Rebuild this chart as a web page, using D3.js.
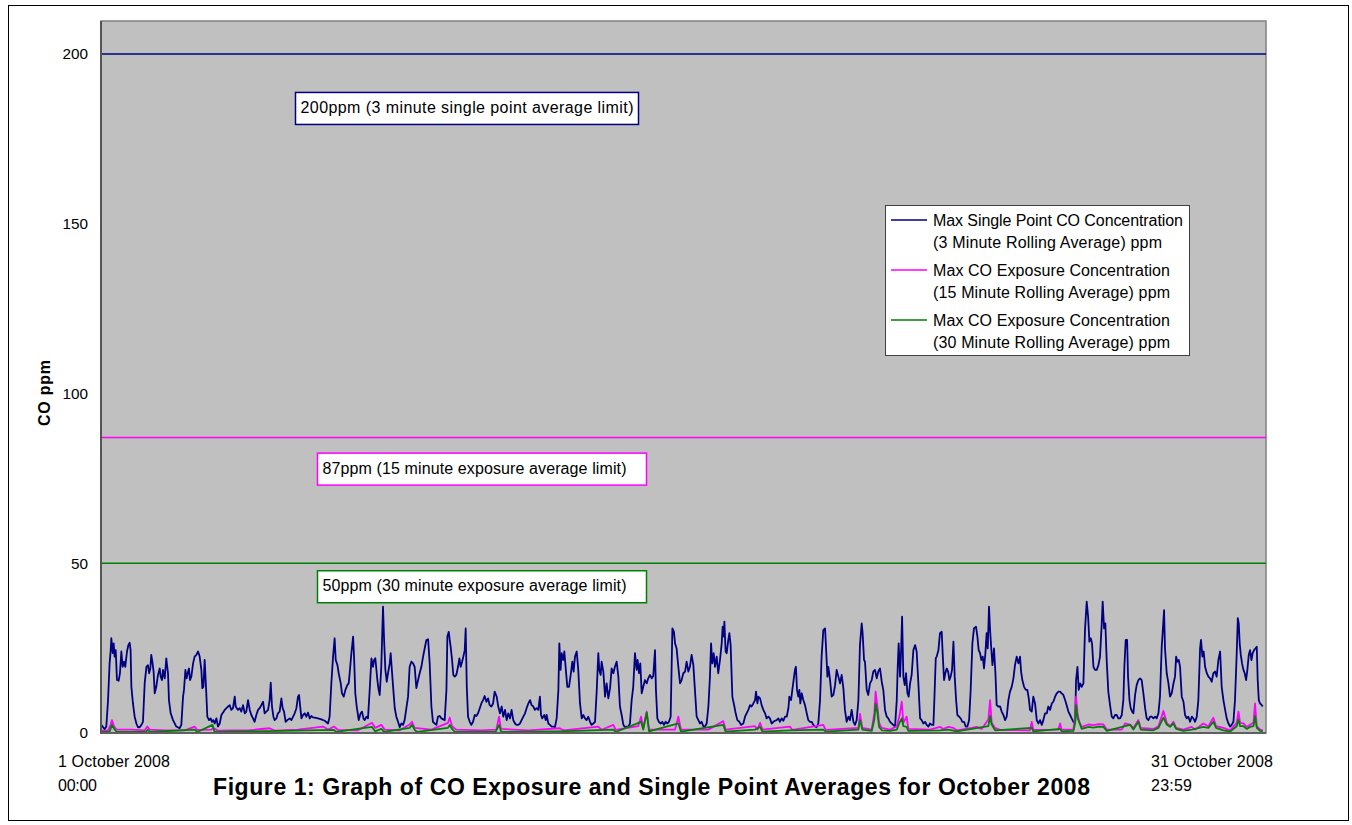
<!DOCTYPE html>
<html><head><meta charset="utf-8">
<script src="https://cdn.jsdelivr.net/npm/d3@7"></script>
<style>
body{margin:0;background:#fff}
svg{display:block}
text{font-family:"Liberation Sans",Arial,Helvetica,sans-serif;fill:#000}
</style>
</head><body>
<svg id="chart" width="1352" height="825"></svg>
<script>
// ---------- DATA (hours since 1 Oct 2008 00:00, ppm) ----------
const yTickValues = [0, 50, 100, 150, 200];
const limitValues = [200, 87, 50];
const limitLabels = [
  "200ppm (3 minute single point average limit)",
  "87ppm (15 minute exposure average limit)",
  "50ppm (30 minute exposure average limit)"
];
const seriesNames = [
  ["Max Single Point CO Concentration", "(3 Minute Rolling Average) ppm"],
  ["Max CO Exposure Concentration", "(15 Minute Rolling Average) ppm"],
  ["Max CO Exposure Concentration", "(30 Minute Rolling Average) ppm"]
];
const startLabel = ["1 October 2008", "00:00"];
const endLabel = ["31 October 2008", "23:59"];
const titleText = "Figure 1: Graph of CO Exposure and Single Point Averages for October 2008";
const yTitle = "CO ppm";
const hoursInMonth = 744;

const singlePoint3min = [
[0.2,2.4],[2.3,1.1],[3.4,1.9],[4.5,9.7],[5.5,20.5],[6.2,24.4],[6.6,27.9],[7.5,23.5],[8.1,26.4],[8.7,22.5],[9.4,24.4],[10.2,15.6],[11.3,15.4],[12.1,17.6],[13.0,24.0],[13.8,19.5],[14.7,21.0],[15.5,19.5],[16.6,24.0],[17.5,25.9],[18.3,26.6],[18.9,24.4],[19.4,13.6],[20.4,8.7],[21.5,4.8],[22.6,2.8],[23.6,1.7],[24.7,1.7],[25.8,2.4],[26.8,3.3],[27.9,14.6],[29.0,19.5],[30.0,20.0],[30.7,17.6],[31.5,19.0],[32.1,23.0],[32.8,21.0],[33.6,18.1],[34.3,11.7],[35.3,13.6],[36.4,17.1],[37.5,19.0],[38.1,16.6],[39.0,15.6],[39.6,18.6],[40.7,16.1],[41.7,22.0],[42.8,17.6],[43.4,9.7],[44.5,5.8],[46.0,3.8],[48.1,1.9],[50.2,1.4],[51.3,2.4],[52.4,10.7],[53.0,12.7],[53.9,18.6],[54.7,16.1],[55.6,18.1],[56.2,19.0],[56.8,15.6],[57.7,16.6],[58.8,20.5],[59.8,22.5],[60.9,23.0],[62.0,24.0],[63.0,22.5],[64.1,18.6],[64.7,13.2],[65.4,13.6],[66.2,21.5],[67.1,13.2],[67.9,4.8],[69.0,3.8],[70.0,4.3],[70.9,3.3],[71.7,3.8],[72.6,2.8],[73.7,4.3],[74.7,1.9],[75.8,2.8],[76.9,5.3],[79.0,6.8],[80.1,7.3],[81.1,7.8],[82.2,8.2],[83.2,6.8],[84.3,7.3],[85.4,10.7],[86.0,7.8],[87.5,6.8],[88.6,7.3],[89.6,6.3],[90.7,8.2],[91.8,5.8],[92.8,6.3],[93.9,9.7],[95.0,6.8],[96.0,5.3],[97.1,4.3],[98.1,3.3],[99.2,5.3],[100.3,6.8],[101.3,7.3],[102.4,8.2],[103.5,9.2],[104.5,5.8],[105.6,6.3],[106.7,6.8],[107.7,9.7],[108.4,14.8],[109.2,7.8],[110.1,4.8],[110.9,3.8],[112.0,4.3],[113.0,5.8],[114.1,6.3],[115.2,10.2],[116.0,7.3],[116.9,6.3],[117.9,3.3],[119.0,3.8],[120.5,4.3],[121.6,3.8],[123.7,5.8],[124.8,7.3],[125.8,10.7],[126.5,11.2],[127.1,8.2],[128.0,4.3],[129.0,5.3],[130.1,5.8],[131.1,4.8],[132.2,6.0],[133.3,4.3],[134.3,5.0],[135.4,4.6],[136.5,4.5],[138.6,4.3],[140.7,4.0],[142.9,3.6],[145.0,2.8],[146.0,4.8],[147.1,14.6],[148.2,22.5],[149.2,27.9],[149.9,21.5],[151.0,20.0],[151.8,17.6],[153.1,14.6],[153.9,11.7],[155.0,10.7],[156.1,12.7],[157.3,14.1],[158.2,14.6],[158.8,17.6],[159.9,23.5],[161.0,28.4],[161.6,22.5],[162.4,11.7],[163.3,7.8],[164.6,3.8],[165.8,5.8],[166.7,6.3],[167.6,4.3],[168.4,3.8],[169.5,4.8],[170.5,4.3],[171.6,12.7],[172.7,22.0],[173.7,19.5],[174.4,21.5],[175.2,22.0],[176.5,15.6],[177.3,12.7],[178.0,11.2],[179.0,19.5],[180.1,37.2],[180.8,27.4],[181.6,18.6],[182.5,15.1],[183.3,17.6],[184.4,20.5],[185.0,23.5],[185.9,17.6],[186.7,12.7],[187.6,7.3],[188.6,4.8],[189.7,3.3],[190.8,1.7],[191.8,2.8],[192.9,2.4],[193.9,3.8],[196.1,10.7],[197.1,19.5],[198.2,21.0],[199.3,20.5],[200.3,19.5],[201.4,13.2],[202.5,15.6],[203.5,17.6],[204.6,19.5],[205.7,22.5],[206.7,24.9],[207.8,27.4],[208.9,27.6],[209.9,20.5],[211.0,7.8],[212.0,3.3],[213.1,2.8],[214.2,2.4],[215.2,4.8],[216.3,5.0],[217.4,4.3],[219.5,3.8],[220.6,12.7],[221.2,28.4],[222.1,29.8],[222.7,27.4],[223.3,25.4],[224.2,21.5],[225.0,17.1],[225.9,16.6],[226.9,17.1],[228.0,19.5],[228.9,22.0],[229.7,19.5],[230.6,21.0],[231.4,22.5],[232.3,24.4],[232.9,30.8],[233.6,13.6],[234.4,4.8],[235.5,3.3],[236.5,2.4],[237.6,3.3],[238.7,5.3],[239.7,5.0],[240.8,5.8],[241.9,7.3],[242.9,8.7],[244.0,9.7],[245.0,10.9],[246.1,9.2],[247.2,10.2],[248.2,8.2],[249.3,7.8],[250.4,8.7],[251.4,12.2],
[252.7,10.7],[253.7,7.8],[254.8,5.8],[255.9,7.8],[256.9,4.8],[258.0,6.8],[259.1,3.8],[260.1,5.8],[261.2,4.3],[262.2,6.8],[263.3,3.8],[264.4,2.8],[265.4,2.4],[266.5,2.4],[267.6,2.8],[268.6,3.8],[269.7,4.8],[270.8,5.8],[271.8,7.3],[272.9,8.7],[274.0,9.7],[275.0,8.2],[276.1,7.8],[277.1,6.8],[278.2,7.3],[279.3,6.8],[280.3,10.7],[281.0,5.3],[281.8,4.3],[283.1,5.3],[284.0,3.8],[284.6,5.3],[285.7,2.8],[286.7,2.4],[287.8,1.9],[288.9,1.9],[289.9,1.7],[291.0,4.3],[292.1,12.7],[292.7,26.4],[293.5,18.6],[294.2,23.5],[295.2,21.5],[295.9,24.0],[296.7,19.5],[297.8,13.6],[298.9,13.6],[300.1,17.6],[301.0,21.0],[301.8,18.1],[302.7,22.5],[303.8,24.0],[304.8,18.6],[305.9,8.7],[307.0,4.3],[308.0,5.3],[309.1,4.3],[310.1,3.8],[311.2,4.8],[312.3,3.3],[313.3,2.4],[314.4,2.8],[315.5,3.3],[316.5,11.7],[317.6,23.5],[318.2,18.6],[319.1,17.1],[319.7,21.0],[320.8,18.1],[321.9,10.7],[322.9,14.6],[324.0,10.2],[325.1,13.2],[326.1,19.0],[327.2,17.6],[328.2,19.5],[329.3,21.0],[330.4,16.6],[331.4,7.8],[332.5,5.3],[333.6,2.4],[334.6,1.7],[335.7,1.9],[336.8,1.9],[337.8,2.8],[338.9,9.7],[339.9,13.6],[341.0,23.5],[342.1,18.6],[342.7,21.5],[343.6,17.6],[344.4,20.5],[345.3,11.7],[346.3,13.6],[347.4,15.6],[348.5,14.6],[349.5,16.1],[350.6,17.1],[351.7,16.1],[352.7,16.8],[353.8,24.4],[354.4,12.7],[355.3,4.3],[356.3,3.3],[357.4,2.8],[358.5,3.3],[359.5,2.4],[360.6,3.3],[361.7,2.8],[362.7,3.3],[363.8,4.8],[364.9,30.8],[365.9,29.8],[366.6,26.4],[367.6,24.9],[368.7,19.5],[369.8,14.6],[370.8,15.6],[371.9,17.6],[373.0,18.1],[374.0,21.0],[375.1,18.1],[376.1,19.5],[377.2,23.0],[378.3,20.0],[379.3,12.7],[380.4,4.8],[381.5,3.8],[382.5,2.8],[383.6,3.3],[384.7,1.9],[385.7,1.9],[386.8,2.8],[387.9,7.8],[388.9,16.6],[389.6,26.4],[390.4,20.5],[391.3,23.5],[392.1,19.5],[393.2,22.5],[394.2,17.6],[395.3,21.5],[396.4,26.4],[397.0,31.3],[397.7,28.4],[398.1,32.8],[398.9,24.0],[399.6,23.5],[400.6,27.4],[401.3,29.4],[402.1,25.9],[403.2,10.7],[404.5,7.8],[405.3,5.8],[406.4,3.8],[407.7,3.3],[408.7,2.4],[410.2,2.8],[411.3,4.8],[412.3,5.8],[413.4,6.8],[414.5,8.2],[415.5,7.8],[416.6,8.7],[417.7,9.7],[418.3,12.2],[419.2,8.7],[419.8,10.7],[420.9,10.2],[421.9,8.2],[423.0,6.8],[424.1,5.8],[425.1,4.3],[426.2,4.8],[427.2,4.3],[428.3,2.8],[429.4,3.3],[430.4,3.6],[431.5,3.8],[432.6,4.3],[433.6,3.3],[434.7,4.3],[435.8,3.6],[436.8,4.8],[437.9,4.8],[439.0,7.3],[439.6,10.7],[440.7,9.7],[441.5,12.7],[442.6,16.6],[443.2,18.6],[443.8,19.5],[444.5,12.7],[445.3,10.7],[446.0,12.7],[446.6,8.7],[447.5,11.7],[448.5,9.7],[449.6,8.2],[450.7,5.8],[451.7,3.8],[452.8,3.3],[453.9,3.3],[454.9,2.4],[456.0,1.9],[457.0,1.7],[458.1,2.8],[459.2,9.7],[460.2,22.5],[461.3,30.3],[462.4,30.8],[463.0,25.4],[463.9,16.6],[464.5,19.5],[465.6,15.6],[466.6,10.7],[467.7,11.2],[468.8,14.1],[469.8,18.6],[470.9,16.6],[472.0,14.6],[473.0,17.1],[474.1,13.2],[475.1,6.8],[476.2,3.3],[477.3,4.8],[478.3,3.8],[479.4,6.8],[480.5,3.3],[481.5,2.4],[482.6,3.8],[483.7,9.7],[484.7,25.9],[485.8,32.3],[486.4,29.4],[487.3,21.5],[487.9,21.0],[489.0,12.7],[490.0,11.2],[491.1,14.6],[492.2,15.6],[493.2,18.1],[494.3,18.6],[495.4,16.1],[496.4,18.1],[497.5,19.0],[498.6,15.1],[499.6,12.7],[500.7,6.8],[501.8,4.8],[502.8,4.3],[503.9,3.3],
[507.1,1.9],[508.2,9.7],[508.8,19.5],[509.4,26.4],[510.3,16.6],[510.9,23.5],[511.6,34.3],[512.4,16.6],[513.3,14.1],[514.1,17.6],[515.0,11.7],[515.8,10.7],[516.7,14.6],[517.7,17.1],[518.8,24.4],[519.9,25.9],[520.9,24.0],[522.0,14.6],[523.1,4.3],[524.1,3.8],[525.2,2.8],[526.3,3.3],[527.3,2.4],[528.4,1.9],[529.4,2.8],[530.5,2.4],[531.6,2.4],[532.2,9.7],[533.1,22.0],[533.7,22.5],[534.8,24.4],[535.8,29.4],[536.9,29.8],[537.5,23.5],[538.4,15.6],[539.2,17.6],[540.1,19.0],[541.0,18.1],[541.8,15.6],[542.6,16.6],[543.5,18.6],[544.4,26.9],[545.2,16.6],[546.1,9.7],[546.9,5.3],[548.0,4.8],[549.0,4.3],[550.1,3.3],[551.2,3.3],[552.2,1.9],[553.3,1.9],[554.4,3.8],[555.4,12.7],[556.5,26.4],[557.5,30.8],[558.8,31.3],[559.7,28.4],[560.5,24.4],[561.4,23.5],[562.2,21.5],[563.1,22.5],[563.9,19.0],[564.8,23.5],[565.6,29.4],[566.3,24.9],[567.1,37.2],[567.8,30.3],[568.4,25.9],[569.3,20.0],[570.3,24.9],[571.2,17.6],[572.0,8.2],[573.1,7.8],[574.2,7.8],[575.2,6.3],[576.3,5.3],[577.4,3.8],[578.4,4.8],[579.5,9.7],[580.5,12.2],[581.6,13.6],[582.7,16.1],[583.7,20.0],[584.8,22.5],[585.9,20.5],[586.9,22.5],[587.6,18.1],[588.4,15.6],[589.5,13.6],[590.6,12.7],[591.6,12.7],[592.5,10.2],[593.3,6.8],[594.4,6.3],[595.4,10.7],[596.5,8.7],[597.6,3.8],[598.6,2.8],[599.7,3.8],[600.8,2.4],[601.8,3.8],[602.9,5.8],[604.0,5.8],[605.0,7.8],[606.1,6.8],[607.2,8.7],[608.2,9.2],[609.3,10.7],[610.4,11.7],[611.4,12.2],[612.5,12.2],[613.5,11.7],[614.6,11.2],[615.7,9.7],[616.7,8.2],[617.8,6.3],[618.9,5.3],[619.9,4.3],[621.0,3.3],[622.1,2.8],[622.7,15.6],[623.6,19.5],[624.4,12.7],[625.3,14.6],[626.3,13.6],[627.4,14.6],[628.4,30.3],[629.5,38.7],[630.4,34.3],[631.2,26.9],[632.1,27.9],[632.9,26.4],[633.8,19.5],[634.8,18.6],[635.9,18.6],[637.0,20.0],[638.0,22.5],[639.1,32.3],[639.7,38.7],[640.6,30.8],[641.4,32.3],[642.3,21.0],[643.3,12.2],[644.4,8.2],[645.5,4.8],[646.5,4.3],[647.6,5.3],[648.7,5.3],[649.7,4.3],[650.8,4.3],[651.9,5.3],[652.9,9.7],[653.6,20.0],[654.4,27.4],[655.3,27.4],[655.9,16.6],[656.8,9.7],[657.6,7.3],[658.5,6.3],[659.3,5.8],[660.4,11.2],[661.4,14.1],[662.5,15.6],[663.6,16.1],[664.6,15.6],[665.7,11.7],[666.8,7.3],[667.8,4.3],[668.9,3.8],[670.0,4.8],[671.0,4.8],[672.1,4.3],[673.2,4.8],[674.2,4.3],[675.3,5.8],[676.3,10.7],[677.4,25.4],[678.0,29.4],[678.9,36.2],[679.5,24.9],[680.6,17.6],[681.7,14.6],[682.7,10.7],[683.8,11.7],[684.9,14.6],[685.9,16.6],[686.6,22.5],[687.4,21.0],[688.3,21.5],[689.1,19.5],[690.2,10.7],[691.3,9.2],[692.3,5.3],[693.4,4.3],[694.4,4.8],[695.5,3.3],[696.6,4.8],[697.6,4.3],[698.7,3.3],[699.8,4.8],[700.8,9.7],[701.9,24.9],[702.5,27.4],[703.4,22.5],[704.2,24.0],[705.1,19.5],[706.2,17.6],[707.2,16.6],[708.3,16.1],[709.3,15.1],[710.4,17.6],[711.5,18.1],[712.5,16.6],[713.6,21.5],[714.7,24.0],[715.7,13.6],[716.8,9.7],[717.9,6.8],[718.9,4.3],[720.0,2.8],[721.1,1.9],[722.1,2.4],[723.2,3.3],[724.2,9.7],[725.3,23.5],[726.0,33.8],[726.6,32.3],[727.2,26.4],[727.9,23.0],[728.7,20.5],[729.6,18.6],[730.4,17.6],[731.3,15.6],[732.1,18.6],[733.0,23.0],[733.8,24.4],[734.7,21.5],[735.5,23.5],[736.4,24.4],[737.2,24.9],[738.1,25.4],[738.7,15.6],[739.4,9.7],[740.2,8.7],[741.3,8.2],[741.9,7.8]
];

const exposure15min = [
[0,0.7],[4.5,0.8],[6.2,2.5],[7.0,3.8],[8.3,2.0],[9.8,1.0],[19.4,1.0],[27.9,0.8],[29.6,1.9],[31.1,1.0],[40.7,0.8],[53.4,0.8],[59.8,1.9],[61.5,0.9],[70.5,1.0],[71.7,1.5],[74.7,0.7],[83.2,0.8],[93.9,0.8],[107.7,1.4],[110.9,0.7],[125.8,1.0],[141.8,1.9],[145.0,1.0],[148.8,1.9],[151.4,0.9],[164.1,0.8],[173.1,3.0],[175.2,1.5],[179.0,2.4],[181.2,1.0],[190.8,0.8],[197.1,2.5],[198.6,3.3],[200.3,1.5],[211.0,1.0],[221.6,3.0],[222.7,4.5],[224.2,2.0],[226.9,1.0],[242.9,0.8],[252.5,1.0],
[252.7,1.5],[254.2,4.8],[255.4,1.2],[272.9,0.8],[293.1,1.4],[295.2,0.8],[317.6,1.9],[319.7,0.9],[327.2,2.4],[328.7,0.9],[343.1,2.0],[344.9,4.8],[346.3,1.5],[348.5,6.3],[350.0,1.0],[366.6,1.0],[368.7,4.8],[370.4,1.0],[387.9,1.0],[397.4,3.5],[398.9,1.0],[417.7,2.0],[419.2,1.0],[420.9,3.0],[422.4,1.0],[440.0,1.9],[441.5,0.9],[461.3,2.4],[462.8,0.9],[483.7,1.5],[484.7,5.6],[486.2,1.5],[492.2,1.0],[493.9,6.0],[494.7,12.2],[495.8,8.0],[496.9,3.0],[498.6,1.5],[503.9,1.0],
[508.2,2.0],[509.9,5.0],[511.4,9.2],[512.4,3.0],[514.5,4.8],[515.6,1.2],[529.4,1.0],[535.8,1.8],[538.0,1.2],[541.2,1.8],[544.4,1.5],[546.5,0.8],[556.1,1.5],[559.3,1.8],[562.4,1.2],[566.7,4.0],[567.8,9.7],[568.8,3.0],[571.0,1.5],[574.2,0.9],[593.3,0.8],[594.4,3.3],[595.4,0.9],[611.4,1.0],[612.5,2.8],[613.5,1.0],[621.0,1.0],[622.1,5.0],[622.7,10.7],[623.6,6.0],[624.6,3.5],[626.3,1.8],[630.6,2.5],[633.8,2.3],[637.0,2.6],[640.2,2.5],[642.3,1.0],[651.9,1.0],[654.0,2.8],[657.2,2.5],[659.3,1.5],[662.5,3.8],[664.0,1.5],[672.1,1.2],[675.3,2.0],[678.5,6.5],[680.6,3.0],[682.7,2.0],[684.9,3.3],[686.6,1.5],[691.2,1.0],[696.6,1.8],[698.7,1.0],[704.0,2.8],[707.2,2.0],[710.4,4.5],[712.1,2.0],[716.8,1.5],[721.1,0.8],[725.3,3.0],[726.4,6.3],[727.5,3.0],[729.6,2.8],[731.7,1.8],[733.8,2.4],[736.0,3.0],[737.0,8.7],[738.1,2.0],[740.2,1.0],[741.9,0.8]
];

const exposure30min = [
[0,0.3],[5.5,0.4],[7.0,2.4],[8.5,1.2],[10.0,0.3],[28.5,0.3],[29.8,0.9],[31.5,0.3],[59.8,1.0],[61.5,0.3],[71.2,2.4],[72.5,0.3],[148.8,0.9],[150.0,0.3],[173.1,1.8],[175.0,0.5],[179.0,1.2],[181.0,0.3],[197.1,1.5],[198.6,2.4],[200.5,0.8],[202.0,0.3],[221.6,1.5],[222.7,2.4],[224.2,1.2],[226.0,0.3],[252.0,0.3],
[254.2,2.4],[255.6,0.3],[293.1,0.5],[327.2,1.0],[328.7,0.3],[344.9,3.3],[346.3,1.0],[348.5,6.0],[350.0,0.5],[368.7,2.8],[370.4,0.4],[397.4,2.4],[398.9,0.4],[417.7,1.0],[420.9,1.8],[422.4,0.4],[440.0,0.8],[461.3,1.0],[462.8,0.4],[483.7,1.0],[484.7,3.8],[486.2,1.0],[492.2,0.6],[493.9,4.0],[494.7,8.7],[495.8,6.0],[496.9,1.8],[498.6,0.8],[503.9,0.6],
[508.2,1.0],[509.9,3.0],[511.4,4.3],[512.4,2.0],[514.5,1.8],[515.6,0.6],[535.8,0.8],[541.2,1.0],[546.5,0.5],[566.7,2.0],[567.8,5.0],[568.8,2.5],[571.0,0.8],[594.4,1.5],[595.4,0.5],[612.5,1.2],[613.5,0.5],[621.0,0.6],[622.1,3.0],[622.7,8.2],[623.6,4.5],[624.6,3.3],[626.3,1.2],[630.6,1.8],[633.8,1.6],[637.0,1.9],[640.2,1.8],[642.3,0.6],[654.0,2.0],[657.2,2.4],[659.3,1.0],[662.5,3.3],[664.0,1.0],[672.1,0.8],[675.3,1.5],[678.5,4.5],[680.6,2.5],[682.7,1.8],[684.9,2.8],[686.6,1.2],[691.2,0.6],[696.6,1.0],[704.0,1.8],[707.2,1.5],[710.4,3.3],[712.1,1.5],[716.8,0.8],[721.1,0.4],[725.3,2.0],[726.4,4.0],[727.5,2.0],[729.6,2.0],[731.7,1.2],[733.8,1.8],[736.0,2.0],[737.0,5.0],[738.1,1.5],[740.2,0.6],[741.9,0.5]
];

// ---------- STYLE / LAYOUT ----------
const colors = ["#000080", "#FF00FF", "#008000"];
const plot = {left: 101, right: 1266, top: 20, bottom: 733};
const font = '"Liberation Sans", Arial, Helvetica, sans-serif';

const svg = d3.select("#chart");
function fit(sel, w) { return sel.attr("textLength", w).attr("lengthAdjust", "spacing"); }

// outer frame
svg.append("rect").attr("x", 8.5).attr("y", 5.5).attr("width", 1340).attr("height", 815)
  .attr("fill", "#fff").attr("stroke", "#000").attr("stroke-width", 1);

const x = d3.scaleLinear().domain([0, hoursInMonth]).range([plot.left, plot.right]);
const y = d3.scaleLinear().domain([0, 210]).range([plot.bottom, plot.top]);

// plot area
svg.append("rect").attr("x", plot.left).attr("y", plot.top + 1)
  .attr("width", plot.right - plot.left).attr("height", plot.bottom - plot.top - 1)
  .attr("fill", "#C0C0C0").attr("stroke", "#808080").attr("stroke-width", 1.5);

// limit lines
svg.selectAll("line.limit").data(limitValues).join("line").attr("class", "limit")
  .attr("x1", plot.left).attr("x2", plot.right)
  .attr("y1", d => y(d)).attr("y2", d => y(d))
  .attr("stroke", (d, i) => colors[i]).attr("stroke-width", 1.5);

// series
const line = d3.line().x(d => x(d[0])).y(d => y(d[1]));
[singlePoint3min, exposure15min, exposure30min].forEach((s, i) => {
  svg.append("path").datum(s).attr("d", line).attr("fill", "none")
    .attr("stroke", colors[i]).attr("stroke-width", 1.8).attr("stroke-linejoin", "round");
});

// axis frame lines (left & bottom darker)
svg.append("line").attr("x1", plot.left).attr("x2", plot.left).attr("y1", plot.top + 1).attr("y2", plot.bottom + 1)
  .attr("stroke", "#555").attr("stroke-width", 2);
svg.append("line").attr("x1", plot.left).attr("x2", plot.right).attr("y1", plot.bottom).attr("y2", plot.bottom)
  .attr("stroke", "#606060").attr("stroke-width", 2);

// y axis
const yAxis = d3.axisLeft(y).tickValues(yTickValues).tickSize(0).tickPadding(13);
const gy = svg.append("g").attr("transform", `translate(${plot.left},0)`).call(yAxis);
gy.select(".domain").remove();
gy.selectAll("text").attr("font-family", font).attr("font-size", 15.3).attr("fill", "#000");

fit(svg.append("text").attr("transform", "translate(50,393) rotate(-90)")
  .attr("text-anchor", "middle").attr("font-weight", "bold").attr("font-size", 16).text(yTitle), 66);

// limit label boxes
const boxPos = [{x: 295, w: 343}, {x: 317, w: 329}, {x: 317, w: 329}];
const boxOffsets = [38, 15, 7];
const labelWidths = [333, 304, 304];
limitValues.forEach((v, i) => {
  const top = y(v) + boxOffsets[i];
  svg.append("rect").attr("x", boxPos[i].x + 0.5).attr("y", top + 0.5)
    .attr("width", boxPos[i].w).attr("height", 32)
    .attr("fill", "#fff").attr("stroke", colors[i]).attr("stroke-width", 1.5);
  fit(svg.append("text").attr("x", boxPos[i].x + 5.5).attr("y", top + 21)
    .attr("font-size", 16).text(limitLabels[i]), labelWidths[i]);
});

// legend
const legendWidths = [[250, 229], [237, 237], [237, 237]];
const lg = svg.append("g").attr("transform", "translate(885,205)");
lg.append("rect").attr("x", 0.5).attr("y", 0.5).attr("width", 304).attr("height", 150)
  .attr("fill", "#fff").attr("stroke", "#404040").attr("stroke-width", 1);
seriesNames.forEach((n, i) => {
  const yy = 15 + i * 50;
  lg.append("line").attr("x1", 6).attr("x2", 42).attr("y1", yy).attr("y2", yy)
    .attr("stroke", colors[i]).attr("stroke-width", 1.5);
  fit(lg.append("text").attr("x", 48).attr("y", yy + 6).attr("font-size", 16).text(n[0]), legendWidths[i][0]);
  fit(lg.append("text").attr("x", 48).attr("y", yy + 27.5).attr("font-size", 16).text(n[1]), legendWidths[i][1]);
});

// x end labels
[[startLabel, 58, [112, 39]], [endLabel, 1151, [122, 41]]].forEach(([lab, xx, ws]) => {
  fit(svg.append("text").attr("x", xx).attr("y", 767).attr("font-size", 16).text(lab[0]), ws[0]);
  fit(svg.append("text").attr("x", xx).attr("y", 791).attr("font-size", 16).text(lab[1]), ws[1]);
});

// title
fit(svg.append("text").attr("x", 213).attr("y", 795)
  .attr("font-weight", "bold").attr("font-size", 23).text(titleText), 877);
</script>
</body></html>
